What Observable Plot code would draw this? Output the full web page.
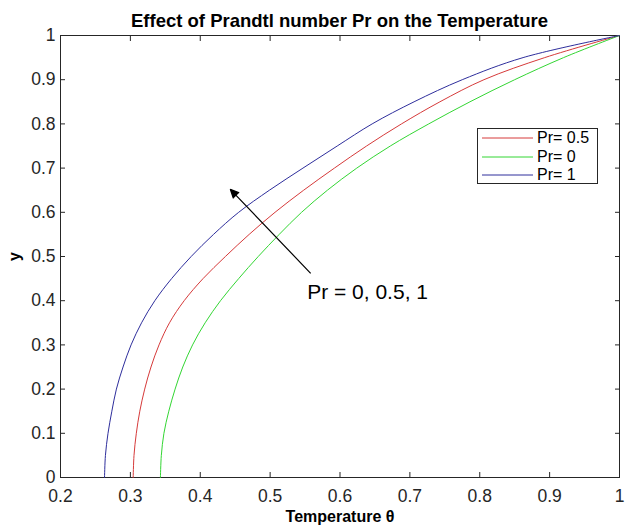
<!DOCTYPE html>
<html><head><meta charset="utf-8">
<script src="https://cdn.jsdelivr.net/npm/d3@7"></script>
<script src="https://cdn.jsdelivr.net/npm/@observablehq/plot@0.6"></script>
<style>
body{margin:0;background:#fff;}
#wrap{position:relative;width:625px;height:527px;font-family:"Liberation Sans",Arial,sans-serif;}
#title{position:absolute;left:60px;width:559px;top:10px;text-align:center;font-weight:bold;font-size:18.5px;color:#000;line-height:22px;}
#legend{position:absolute;left:477px;top:128px;width:121px;height:56px;border:1px solid #262626;background:#fff;box-sizing:border-box;}
.row{position:absolute;left:0;height:18px;width:120px;}
.row svg{position:absolute;left:4px;top:0;}
.row span{position:absolute;left:59px;top:0;font-size:16px;line-height:18px;color:#000;}
svg [aria-label="x-axis label"] text, svg [aria-label="y-axis label"] text{font-weight:bold;}
</style>
</head><body>
<div id="wrap">
<div id="title">Effect of Prandtl number Pr on the Temperature</div>
<div id="chart"></div>
<div id="legend"></div>
</div>
<script>
// y positions at which the temperature curves were read
const yLevels   = [0, 0.05, 0.1, 0.15, 0.2, 0.25, 0.3, 0.35, 0.4, 0.45, 0.5, 0.55, 0.6, 0.65, 0.7, 0.75, 0.8, 0.85, 0.9, 0.95, 1];
const thetaPr05 = [0.304, 0.3052, 0.3085, 0.3135, 0.3205, 0.3295, 0.341, 0.356, 0.377, 0.404, 0.436, 0.470, 0.507, 0.548, 0.592, 0.638, 0.688, 0.743, 0.806, 0.893, 1];
const thetaPr0  = [0.343, 0.3443, 0.348, 0.355, 0.364, 0.375, 0.389, 0.407, 0.429, 0.455, 0.483, 0.513, 0.545, 0.582, 0.624, 0.672, 0.727, 0.786, 0.850, 0.920, 1];
const thetaPr1  = [0.263, 0.2643, 0.268, 0.2735, 0.280, 0.2895, 0.301, 0.316, 0.335, 0.359, 0.387, 0.419, 0.455, 0.499, 0.547, 0.596, 0.646, 0.706, 0.775, 0.862, 1];
const seriesNames  = ["Pr= 0.5", "Pr= 0", "Pr= 1"];
const seriesColors = ["#d63a3a", "#33d633", "#2e2e9c"];
const xTicks = [0.2, 0.3, 0.4, 0.5, 0.6, 0.7, 0.8, 0.9, 1];
const yTicks = [0, 0.1, 0.2, 0.3, 0.4, 0.5, 0.6, 0.7, 0.8, 0.9, 1];
const annoText = ["Pr = 0, 0.5, 1"];
const annoX = [0.553];
const annoY = [0.420];
const arrowFrom = [0.558, 0.462];
const arrowTo   = [0.443, 0.652];

const allSeries = [thetaPr05, thetaPr0, thetaPr1];
const rows = [];
allSeries.forEach((vals, i) => vals.forEach((v, j) => rows.push({series: seriesNames[i], theta: v, y: yLevels[j]})));

const fmt = d => String(+d.toFixed(1));
const ink = "#262626";

const chart = Plot.plot({
  width: 625, height: 527,
  marginLeft: 60, marginRight: 6, marginTop: 35, marginBottom: 50,
  style: {fontFamily: "'Liberation Sans', Arial, sans-serif", fontSize: "17.5px", color: ink, background: "#fff"},
  x: {domain: [0.2, 1], label: "Temperature θ"},
  y: {domain: [0, 1], label: "y"},
  color: {domain: seriesNames, range: seriesColors},
  marks: [
    Plot.frame({stroke: ink, strokeWidth: 1}),
    Plot.axisX({anchor: "bottom", ticks: xTicks, tickSize: 0, tickPadding: 12, tickFormat: fmt, fill: ink, label: null}),
    Plot.axisX({anchor: "bottom", ticks: [], label: "Temperature θ", labelAnchor: "center", labelArrow: "none",
      labelOffset: 44, fontSize: 16, fill: "#000"}),
    Plot.axisX({anchor: "bottom", ticks: xTicks, tickSize: -5, text: null, label: null, stroke: ink}),
    Plot.axisX({anchor: "top", ticks: xTicks, tickSize: -5, text: null, label: null, stroke: ink}),
    Plot.axisY({anchor: "left", ticks: yTicks, tickSize: 0, tickPadding: 5, tickFormat: fmt, fill: ink, label: null}),
    Plot.axisY({anchor: "left", ticks: [], label: "y", labelAnchor: "center", labelArrow: "none",
      labelOffset: 52, fontSize: 16, fill: "#000"}),
    Plot.axisY({anchor: "left", ticks: yTicks, tickSize: -5, text: null, label: null, stroke: ink}),
    Plot.axisY({anchor: "right", ticks: yTicks, tickSize: -5, text: null, label: null, stroke: ink}),
    Plot.line(rows, {x: "theta", y: "y", z: "series", stroke: "series", strokeWidth: 1, curve: "catmull-rom"}),
    Plot.arrow([0], {x1: () => arrowFrom[0], y1: () => arrowFrom[1], x2: () => arrowTo[0], y2: () => arrowTo[1],
      stroke: "#000", fill: "#000", strokeWidth: 1.2, headLength: 12, headAngle: 50, strokeLinecap: "butt"}),
    Plot.text(annoText, {x: annoX, y: annoY, text: d => d, textAnchor: "start", fontSize: 21, fill: "#000"})
  ]
});
document.getElementById("chart").appendChild(chart);

// legend
const leg = document.getElementById("legend");
const legTops = [0, 19, 37];
seriesNames.forEach((name, i) => {
  const r = document.createElement("div");
  r.className = "row";
  r.style.top = legTops[i] + "px";
  r.innerHTML = `<svg width="52" height="18"><line x1="0" x2="51" y1="9" y2="9" stroke="${seriesColors[i]}" stroke-width="1"/></svg><span>${name}</span>`;
  leg.appendChild(r);
});
</script>
</body></html>
